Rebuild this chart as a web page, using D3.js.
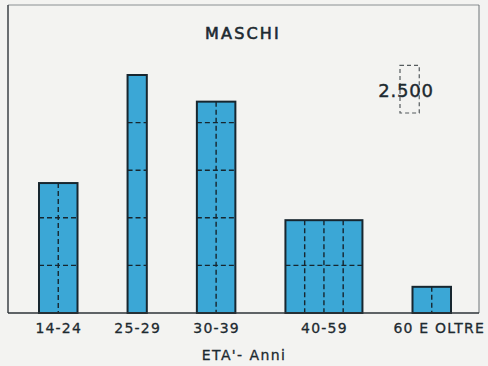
<!DOCTYPE html>
<html>
<head>
<meta charset="utf-8">
<script src="https://cdn.jsdelivr.net/npm/d3@7"></script>
<style>
  html, body { margin: 0; padding: 0; background: #f3f3f1; }
  svg { display: block; }
  text { font-family: "DejaVu Sans", sans-serif; fill: #1d2a30; }
</style>
</head>
<body>
<svg id="chart" width="488" height="366"></svg>
<script>
// ---- data ----
const categories = ["14-24", "25-29", "30-39", "40-59", "60 E OLTRE"];
const classYears = [10, 5, 10, 20, 10];          // width of each age class (years)
const maschi = [13650, 12500, 22200, 19500, 2750]; // persons per class
const unitValue = 2500;   // persons represented by one cell
const unitYears = 5;      // years represented by one cell
const legendLabel = "2.500";
const title = "MASCHI";
const xTitle = "ETA'- Anni";

// ---- layout ----
const frame = { left: 8, top: 5, right: 479, bottom: 313 };
const gapYears = 13;       // blank space between bars, in year units
const svg = d3.select("#chart");

const starts = [];
let acc = 0;
classYears.forEach((w, i) => { starts.push(acc); acc += w + (i < classYears.length - 1 ? gapYears : 0); });

const x = d3.scaleLinear().domain([0, acc]).range([39, 451]);
const y = d3.scaleLinear().domain([0, unitValue * 6]).range([frame.bottom, frame.bottom - 47.6 * 6]);

const data = categories.map((c, i) => ({
  cat: c, start: starts[i], years: classYears[i], value: maschi[i],
  density: maschi[i] / (classYears[i] / unitYears)
}));

// frame
svg.append("line").attr("x1", frame.left).attr("x2", frame.right).attr("y1", frame.top).attr("y2", frame.top)
  .attr("stroke", "#8a8f92").attr("stroke-width", 1);
svg.append("line").attr("x1", frame.left).attr("x2", frame.left).attr("y1", frame.top).attr("y2", frame.bottom)
  .attr("stroke", "#3c4246").attr("stroke-width", 1.5);
svg.append("line").attr("x1", frame.right).attr("x2", frame.right).attr("y1", frame.top).attr("y2", frame.bottom)
  .attr("stroke", "#6d7377").attr("stroke-width", 1);

const fill = "#3ba7d6", stroke = "#17262f";

const bars = svg.append("g").selectAll("g").data(data).join("g");
bars.append("rect")
  .attr("x", d => x(d.start))
  .attr("width", d => x(d.start + d.years) - x(d.start))
  .attr("y", d => y(d.density))
  .attr("height", d => y(0) - y(d.density))
  .attr("fill", fill).attr("stroke", stroke).attr("stroke-width", 2);

// inner dashed grid
bars.each(function(d) {
  const g = d3.select(this);
  for (let v = unitValue; v < d.density - 1e-6; v += unitValue) {
    g.append("line")
      .attr("x1", x(d.start)).attr("x2", x(d.start + d.years))
      .attr("y1", y(v)).attr("y2", y(v))
      .attr("stroke", stroke).attr("stroke-width", 1.4).attr("stroke-dasharray", "5,3");
  }
  for (let t = unitYears; t < d.years; t += unitYears) {
    g.append("line")
      .attr("x1", x(d.start + t)).attr("x2", x(d.start + t))
      .attr("y1", y(d.density)).attr("y2", y(0))
      .attr("stroke", stroke).attr("stroke-width", 1.4).attr("stroke-dasharray", "5,3");
  }
});

// x axis
const axis = d3.axisBottom(d3.scaleOrdinal().domain(categories).range(data.map(d => x(d.start + d.years / 2))))
  .tickSize(0).tickPadding(0);
const ax = svg.append("g").attr("transform", `translate(0,${frame.bottom})`).call(axis);
ax.select(".domain").remove();
ax.selectAll("text").attr("font-size", 14).attr("letter-spacing", 1.2).attr("dy", "1.45em")
  .attr("fill", "#1d2a30").attr("font-family", "DejaVu Sans, sans-serif")
  .attr("stroke", "#1d2a30").attr("stroke-width", 0.3)
  .attr("dx", (d, i) => i === categories.length - 1 ? 7 : 0);
svg.append("line").attr("x1", frame.left).attr("x2", frame.right).attr("y1", frame.bottom).attr("y2", frame.bottom)
  .attr("stroke", "#2c3337").attr("stroke-width", 1.5);

// titles
svg.append("text").attr("x", 243).attr("y", 39).attr("text-anchor", "middle")
  .attr("font-size", 16).attr("letter-spacing", 2.2)
  .attr("stroke", "#1d2a30").attr("stroke-width", 0.6).text(title);
svg.append("text").attr("x", 244).attr("y", 360).attr("text-anchor", "middle")
  .attr("font-size", 14).attr("letter-spacing", 1.4)
  .attr("stroke", "#1d2a30").attr("stroke-width", 0.3).text(xTitle);

// legend: one cell = unitValue persons x unitYears
const lx0 = 400, ly0 = 113;
const lw = x(unitYears) - x(0), lh = y(0) - y(unitValue);
svg.append("rect").attr("x", lx0).attr("y", ly0 - lh).attr("width", lw).attr("height", lh)
  .attr("fill", "none").attr("stroke", "#555b5e").attr("stroke-width", 1.2).attr("stroke-dasharray", "4,3");
svg.append("rect").attr("x", lx0 + 2).attr("y", ly0 - lh + 18).attr("width", lw - 4).attr("height", 16)
  .attr("fill", "#f3f3f1");
svg.append("text").attr("x", 406).attr("y", 97).attr("text-anchor", "middle")
  .attr("font-size", 18).attr("letter-spacing", 0.8)
  .attr("stroke", "#1d2a30").attr("stroke-width", 0.4).text(legendLabel);
</script>
</body>
</html>
